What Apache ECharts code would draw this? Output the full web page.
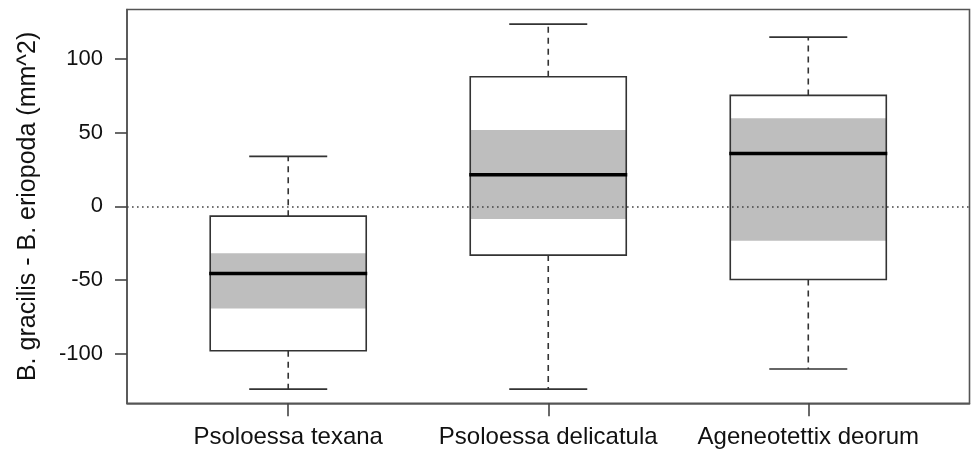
<!DOCTYPE html>
<html>
<head>
<meta charset="utf-8">
<script src="https://cdn.jsdelivr.net/npm/echarts@6/dist/echarts.min.js"></script>
<style>
html,body{margin:0;padding:0;background:#fff;}
#chart{width:971px;height:450px;}
</style>
</head>
<body>
<div id="chart"></div>
<script>
const categories = ['Psoloessa texana', 'Psoloessa delicatula', 'Ageneotettix deorum'];
const lowerWhisker = [-123.8, -123.8, -110.2];
const q1 = [-97.8, -33.0, -49.5];
const median = [-45.4, 21.4, 35.9];
const q3 = [-6.6, 87.8, 75.2];
const upperWhisker = [33.9, 123.5, 114.7];
const ciLow = [-69.1, -8.6, -23.3];
const ciHigh = [-31.8, 51.7, 59.8];
const yTicks = [-100, -50, 0, 50, 100];
const xTicks = [1, 2, 3];
const refLineValue = 0;

const data = categories.map((c, i) => [i + 1, lowerWhisker[i], q1[i], median[i], q3[i], upperWhisker[i], ciLow[i], ciHigh[i]]);

const chart = echarts.init(document.getElementById('chart'));
const FONT = "'Liberation Sans', Arial, Helvetica, sans-serif";

function renderBox(params, api) {
  const x = api.value(0);
  const lw = api.value(1), b1 = api.value(2), md = api.value(3), b3 = api.value(4), uw = api.value(5), cl = api.value(6), ch = api.value(7);
  const halfBox = 0.3, halfCap = 0.15;
  const pL = api.coord([x - halfBox, 0])[0];
  const pR = api.coord([x + halfBox, 0])[0];
  const pC = api.coord([x, 0])[0];
  const cL = api.coord([x - halfCap, 0])[0];
  const cR = api.coord([x + halfCap, 0])[0];
  const y = v => api.coord([x, v])[1];
  const boxStroke = '#333';
  const children = [
    {type: 'line', shape: {x1: pC, y1: y(b3), x2: pC, y2: y(uw)}, style: {stroke: '#333', lineWidth: 1.6, lineDash: [6, 5]}},
    {type: 'line', shape: {x1: pC, y1: y(b1), x2: pC, y2: y(lw)}, style: {stroke: '#333', lineWidth: 1.6, lineDash: [6, 5]}},
    {type: 'line', shape: {x1: cL, y1: y(uw), x2: cR, y2: y(uw)}, style: {stroke: '#333', lineWidth: 1.6}},
    {type: 'line', shape: {x1: cL, y1: y(lw), x2: cR, y2: y(lw)}, style: {stroke: '#333', lineWidth: 1.6}},
    {type: 'rect', shape: {x: pL, y: y(b3), width: pR - pL, height: y(b1) - y(b3)}, style: {fill: '#fff', stroke: null}},
    {type: 'rect', shape: {x: pL, y: y(ch), width: pR - pL, height: y(cl) - y(ch)}, style: {fill: '#bebebe', stroke: null}},
    {type: 'rect', shape: {x: pL, y: y(b3), width: pR - pL, height: y(b1) - y(b3)}, style: {fill: 'none', stroke: boxStroke, lineWidth: 1.6}},
    {type: 'line', shape: {x1: pL - 1, y1: y(md), x2: pR + 1, y2: y(md)}, style: {stroke: '#000', lineWidth: 3.5}}
  ];
  return {type: 'group', children: children};
}

chart.setOption({
  backgroundColor: '#fff',
  animation: false,
  grid: {left: 127, right: 1.5, top: 9.5, bottom: 46.7, show: true, borderColor: '#555', borderWidth: 1.6, backgroundColor: 'transparent'},
  xAxis: {
    type: 'value', min: 0.38, max: 3.62,
    axisLine: {show: true, onZero: false, lineStyle: {color: '#555', width: 1.6}},
    axisTick: {show: true, length: 13, customValues: xTicks, lineStyle: {color: '#444', width: 1.6}},
    axisLabel: {customValues: xTicks, formatter: v => categories[Math.round(v) - 1] || '', fontFamily: FONT, fontSize: 24, color: '#111', margin: 22},
    splitLine: {show: false}
  },
  yAxis: {
    type: 'value', min: -133.4, max: 133.4,
    name: 'B. gracilis - B. eriopoda (mm^2)', nameLocation: 'middle', nameGap: 86, nameRotate: 90,
    nameTextStyle: {fontFamily: FONT, fontSize: 25, color: '#111'},
    axisLine: {show: true, onZero: false, lineStyle: {color: '#555', width: 1.6}},
    axisTick: {show: true, length: 12, customValues: yTicks, lineStyle: {color: '#444', width: 1.6}},
    axisLabel: {customValues: yTicks, fontFamily: FONT, fontSize: 22, color: '#111', margin: 24},
    splitLine: {show: false}
  },
  series: [{
    type: 'custom',
    renderItem: renderBox,
    data: data,
    encode: {x: 0, y: [1, 2, 3, 4, 5, 6, 7]},
    clip: false,
    z: 2
  }, {
    type: 'line',
    data: [],
    z: 5,
    markLine: {
      silent: true, symbol: 'none', label: {show: false}, z: 5,
      lineStyle: {color: '#444', type: [1.6, 3.4], width: 1.6},
      data: [{yAxis: refLineValue}]
    }
  }]
});
</script>
</body>
</html>
